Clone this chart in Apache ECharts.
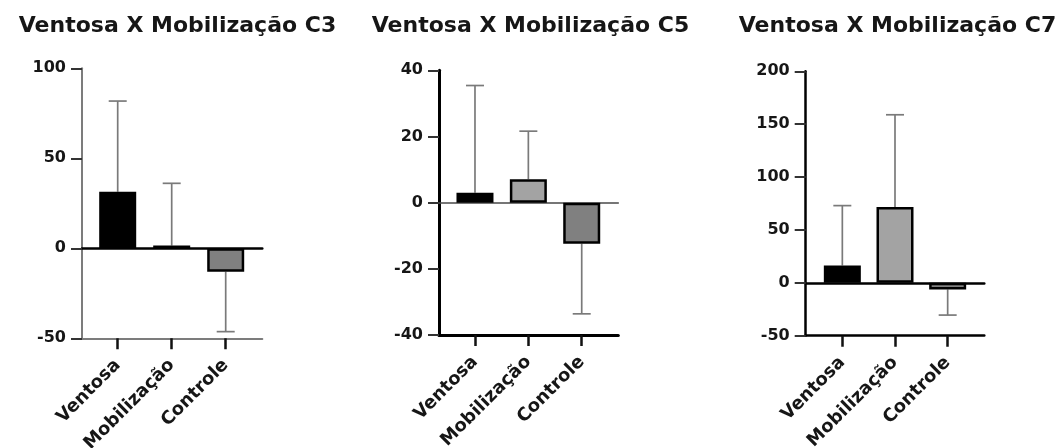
<!DOCTYPE html>
<html>
<head>
<meta charset="utf-8">
<script src="https://cdn.jsdelivr.net/npm/echarts@6/dist/echarts.min.js"></script>
<style>html,body{margin:0;padding:0;background:#fff}#c{width:1056px;height:448px}</style>
</head>
<body>
<div id="c"></div>
<script>
const categories = ['Ventosa', 'Mobilização', 'Controle'];
const titles = ['Ventosa X Mobilização C3', 'Ventosa X Mobilização C5', 'Ventosa X Mobilização C7'];
const c3Means = [31.4, 1.5, -13.0];
const c3SD = [50.4, 34.6, 33.3];
const c5Means = [3.0, 7.1, -12.4];
const c5SD = [32.4, 14.5, 21.2];
const c7Means = [16.4, 71.8, -6.3];
const c7SD = [56.6, 87.1, 24.2];
const c3Ticks = [-50, 0, 50, 100];
const c5Ticks = [-40, -20, 0, 20, 40];
const c7Ticks = [-50, 0, 50, 100, 150, 200];

const FONT = '"DejaVu Sans", "Liberation Sans", Arial, sans-serif';
const TXT = '#161616';
const barColors = ['#000000', '#a3a3a3', '#808080'];

const panels = [
  { means: c3Means, sd: c3SD, ticks: c3Ticks, title: titles[0], titleX: 172.5,
    A: { left: 82, top: 68.3, width: 180.3, height: 270 }, bLeft: 90.7, bWidth: 162,
    yColor: '#7c7c7c', yWidth: 2, botColor: '#7c7c7c', botWidth: 2, zeroColor: '#000', zeroWidth: 2.5 },
  { means: c5Means, sd: c5SD, ticks: c5Ticks, title: titles[1], titleX: 525.5,
    A: { left: 439, top: 70.3, width: 179.3, height: 264.7 }, bLeft: 448.3, bWidth: 160.1,
    yColor: '#000', yWidth: 3, botColor: '#000', botWidth: 3, zeroColor: '#4a4a4a', zeroWidth: 1.6 },
  { means: c7Means, sd: c7SD, ticks: c7Ticks, title: titles[2], titleX: 892.5,
    A: { left: 805.7, top: 71.3, width: 178.6, height: 264.4 }, bLeft: 816, bWidth: 158,
    yColor: '#000', yWidth: 2.5, botColor: '#000', botWidth: 2.5, zeroColor: '#000', zeroWidth: 2.5 }
];

const option = { animation: false, backgroundColor: '#fff', title: [], grid: [], xAxis: [], yAxis: [], series: [] };

panels.forEach((p, k) => {
  const tmin = p.ticks[0], tmax = p.ticks[p.ticks.length - 1], step = p.ticks[1] - p.ticks[0];
  option.title.push({ text: p.title, left: p.titleX, top: 10, textAlign: 'center',
    textStyle: { fontFamily: FONT, fontWeight: 'bold', fontSize: 22, color: TXT } });
  option.grid.push({ left: p.A.left, top: p.A.top, width: p.A.width, height: p.A.height,
    containLabel: false, outerBoundsMode: 'none' });
  option.grid.push({ left: p.bLeft, top: p.A.top, width: p.bWidth, height: p.A.height,
    containLabel: false, outerBoundsMode: 'none' });
  const gA = 2 * k, gB = 2 * k + 1;
  option.xAxis.push({ type: 'value', gridIndex: gA, min: 0, max: 1, position: 'bottom',
    axisLine: { show: true, onZero: false, lineStyle: { color: p.botColor, width: p.botWidth } },
    axisTick: { show: false }, axisLabel: { show: false }, splitLine: { show: false } });
  option.xAxis.push({ type: 'value', gridIndex: gA, min: 0, max: 1, position: 'top',
    axisLine: { show: true, onZero: true, lineStyle: { color: p.zeroColor, width: p.zeroWidth } },
    axisTick: { show: false }, axisLabel: { show: false }, splitLine: { show: false } });
  option.xAxis.push({ type: 'category', gridIndex: gB, data: categories, position: 'bottom',
    axisLine: { show: false, onZero: false },
    axisTick: { show: true, alignWithLabel: true, length: 11, lineStyle: { color: '#111', width: 2.5 } },
    axisLabel: { rotate: 45, margin: 24, fontFamily: FONT, fontWeight: 'bold', fontSize: 18, color: TXT, interval: 0 },
    splitLine: { show: false } });
  option.yAxis.push({ type: 'value', gridIndex: gA, min: tmin, max: tmax, interval: step,
    axisLine: { show: true, onZero: false, lineStyle: { color: p.yColor, width: p.yWidth } },
    axisTick: { show: true, length: 11, lineStyle: { color: '#333', width: 2 } },
    axisLabel: { margin: 16, fontFamily: FONT, fontWeight: 'bold', fontSize: 16, color: TXT },
    splitLine: { show: false } });
  option.yAxis.push({ type: 'value', gridIndex: gB, min: tmin, max: tmax, interval: step, show: false,
    splitLine: { show: false } });
  option.series.push({
    type: 'custom', xAxisIndex: 3 * k + 2, yAxisIndex: gB, z: 1, silent: true,
    data: p.means.map((m, i) => [i, m, m + Math.sign(m) * p.sd[i]]),
    renderItem: (params, api) => {
      const x = api.value(0);
      const a = api.coord([x, api.value(1)]);
      const b = api.coord([x, api.value(2)]);
      const half = 9;
      const st = { stroke: '#7a7a7a', lineWidth: 1.7 };
      return { type: 'group', children: [
        { type: 'line', shape: { x1: a[0], y1: a[1], x2: b[0], y2: b[1] }, style: st },
        { type: 'line', shape: { x1: b[0] - half, y1: b[1], x2: b[0] + half, y2: b[1] }, style: st }
      ] };
    }
  });
  option.series.push({
    type: 'bar', xAxisIndex: 3 * k + 2, yAxisIndex: gB, z: 3, barWidth: 37,
    data: p.means.map((v, i) => ({ value: v, itemStyle: { color: barColors[i] } })),
    itemStyle: { borderColor: '#000', borderWidth: 2.5 }
  });
});

const chart = echarts.init(document.getElementById('c'), null, { renderer: 'canvas' });
chart.setOption(option);
</script>
</body>
</html>
